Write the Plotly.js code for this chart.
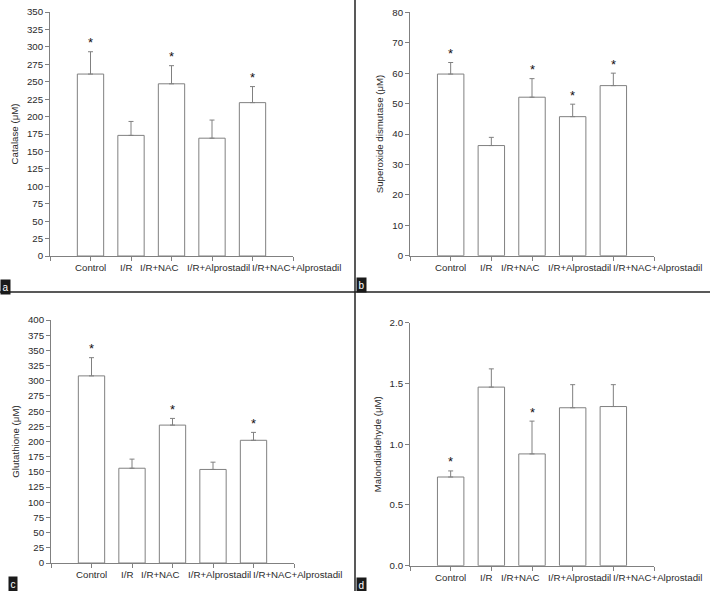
<!DOCTYPE html>
<html>
<head>
<meta charset="utf-8">
<script src="https://cdn.plot.ly/plotly-3.0.1.min.js"></script>
<style>html,body{margin:0;padding:0;background:#fff;}#chart{width:710px;height:591px;}</style>
</head>
<body>
<div id="chart"></div>
<script>
// ---- data ----
const categories = ['Control', 'I/R', 'I/R+NAC', 'I/R+Alprostadil', 'I/R+NAC+Alprostadil'];

const catalaseMean = [261, 173, 247, 169, 220];
const catalaseErr  = [32, 20, 26, 26, 23];
const catalaseSig  = [1, 0, 1, 0, 1];

const sodMean = [59.7, 36.2, 52.1, 45.7, 55.9];
const sodErr  = [3.8, 2.7, 6.1, 4.1, 4.1];
const sodSig  = [1, 0, 1, 1, 1];

const gshMean = [308, 156, 227, 154, 202];
const gshErr  = [30, 15, 11, 12, 13];
const gshSig  = [1, 0, 1, 0, 1];

const mdaMean = [0.73, 1.47, 0.92, 1.30, 1.31];
const mdaErr  = [0.05, 0.15, 0.27, 0.19, 0.18];
const mdaSig  = [1, 0, 1, 0, 0];

const yTitles = ['Catalase (μM)', 'Superoxide dismutase (μM)', 'Glutathione (μM)', 'Malondialdehyde (μM)'];
const yRanges = [[0, 350], [0, 80], [0, 400], [0, 2]];
const yDticks = [25, 10, 25, 0.5];
const panelLabels = ['a', 'b', 'c', 'd'];

// ---- style / layout (not data) ----
const W = 710, H = 591;
const boxes = [ // pixel boxes: x0,x1,yTop,yBottom
  [50, 293, 12, 256],
  [410, 654, 12.3, 255.7],
  [51, 294, 320, 563],
  [410, 654, 322.7, 565.7]
];
const xRange = [0, 6];
// category label shifts (in category units) as laid out in the original figure
const labelShift = [0, -0.13, -0.29, 0.16, 1.09];
const gray = '#808080';
const textCol = '#2a2a2a';
const fontFam = 'Liberation Sans, Arial, sans-serif';
const fs = 9.7;

const series = [
  [catalaseMean, catalaseErr, catalaseSig],
  [sodMean, sodErr, sodSig],
  [gshMean, gshErr, gshSig],
  [mdaMean, mdaErr, mdaSig]
];

const xpos = categories.map((c, i) => i + 1);
const traces = [];
const layout = {
  width: W, height: H,
  margin: {l: 0, r: 0, t: 0, b: 0},
  paper_bgcolor: '#fff', plot_bgcolor: '#fff',
  showlegend: false,
  font: {family: fontFam, size: fs, color: textCol},
  annotations: [],
  shapes: [
    {type: 'line', xref: 'paper', yref: 'paper', x0: 0, x1: 1, y0: 1 - 292 / H, y1: 1 - 292 / H, line: {color: '#222', width: 1.5}},
    {type: 'line', xref: 'paper', yref: 'paper', x0: 355 / W, x1: 355 / W, y0: 0, y1: 1, line: {color: '#222', width: 1.5}}
  ]
};

series.forEach((s, k) => {
  const [mean, err, sig] = s;
  const sfx = k === 0 ? '' : String(k + 1);
  traces.push({
    type: 'bar',
    x: xpos, y: mean,
    width: 0.65,
    xaxis: 'x' + sfx, yaxis: 'y' + sfx,
    marker: {color: '#ffffff', line: {color: gray, width: 1}},
    error_y: {type: 'data', symmetric: false, array: err, arrayminus: mean.map(() => 0),
              color: gray, thickness: 1, width: 2.5},
    hoverinfo: 'skip'
  });
  const b = boxes[k];
  layout['xaxis' + sfx] = {
    domain: [b[0] / W, b[1] / W],
    anchor: 'y' + sfx,
    range: xRange, fixedrange: true,
    tickmode: 'array',
    tickvals: [xRange[0], ...xpos, xRange[1]],
    showticklabels: false,
    ticks: 'outside', ticklen: 4, tickcolor: gray, tickwidth: 1,
    showline: true, linecolor: gray, linewidth: 1,
    showgrid: false, zeroline: false
  };
  layout['yaxis' + sfx] = {
    domain: [1 - b[3] / H, 1 - b[2] / H],
    anchor: 'x' + sfx,
    range: yRanges[k], dtick: yDticks[k], tick0: 0,
    tickformat: k === 3 ? '.1f' : 'd',
    ticks: 'outside', ticklen: 4, tickcolor: gray, tickwidth: 1,
    showline: true, linecolor: gray, linewidth: 1,
    showgrid: false, zeroline: false,
    tickfont: {size: fs, color: textCol, family: fontFam},
    title: {text: yTitles[k], font: {size: fs, color: textCol, family: fontFam}, standoff: 6}
  };
  // category labels (placed along the x axis domain)
  categories.forEach((c, i) => {
    layout.annotations.push({
      xref: 'x' + sfx + ' domain', yref: 'y' + sfx + ' domain',
      x: (xpos[i] + labelShift[i] - xRange[0]) / (xRange[1] - xRange[0]), y: 0,
      text: c, showarrow: false,
      xanchor: 'center', yanchor: 'top', yshift: -4,
      font: {size: fs, color: textCol, family: fontFam}
    });
  });
  // significance stars
  mean.forEach((m, i) => {
    if (sig[i]) {
      layout.annotations.push({
        xref: 'x' + sfx, yref: 'y' + sfx,
        x: xpos[i], y: m + err[i],
        text: '*', showarrow: false,
        yanchor: 'middle', yshift: 9,
        font: {size: 13, color: '#111', family: fontFam}
      });
    }
  });
});

// panel letter boxes
const labelPos = [[6, 287], [361, 285], [13, 584], [361, 585]];
panelLabels.forEach((t, k) => {
  layout.annotations.push({
    xref: 'paper', yref: 'paper',
    x: labelPos[k][0] / W, y: 1 - labelPos[k][1] / H,
    text: t, showarrow: false,
    xanchor: 'center', yanchor: 'middle',
    bgcolor: '#1a1a1a', borderpad: 1.5,
    font: {size: 10, color: '#ffffff', family: fontFam}
  });
});

Plotly.newPlot('chart', traces, layout, {displayModeBar: false, staticPlot: true});
</script>
</body>
</html>
